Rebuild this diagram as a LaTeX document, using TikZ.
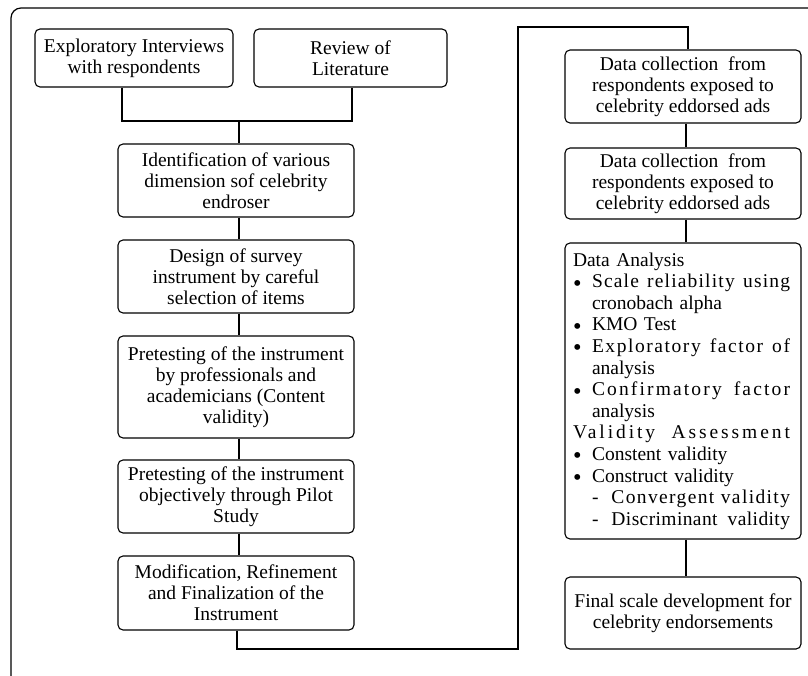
\documentclass[tikz,border=0pt]{standalone}
\usepackage{fontspec}
\setmainfont{Liberation Serif}
\newcommand\bul{\makebox[19pt][l]{\raisebox{-3.5pt}{\scalebox{1.25}{\textbullet}}}}
\newcommand\ind{\hspace*{19pt}}
% justified line: width, letter spacing, words
\newcommand\spread[3]{\leavevmode\hbox to #1{\addfontfeature{LetterSpace=#2}#3}}
\begin{document}
\begin{tikzpicture}[x=1pt,y=-1pt,
  box/.style={draw, rounded corners=5pt, line width=1.1pt, align=center,
    font=\fontsize{19.5}{21}\selectfont, inner sep=0pt},
  link/.style={line width=1.1pt},
  frame/.style={line width=1.2pt, rounded corners=10pt}]
\useasboundingbox (0,0) rectangle (808,676);
\clip (0,0) rectangle (808,676);

% outer frame
\draw[frame] (830,8) -- (11,8) -- (11,686) -- (830,686);

% left column
\node[box, minimum width=198pt, minimum height=58pt] (A) at (134,58)
  {Exploratory Interviews\\with respondents};
\node[box, minimum width=193pt, minimum height=58pt] (B) at (350.5,58)
  {Review of\\Literature};
\node[box, minimum width=236pt, minimum height=73pt] (C) at (236,180.5)
  {Identification of various\\dimension sof celebrity\\endroser};
\node[box, minimum width=236pt, minimum height=73pt] (D) at (236,276.5)
  {Design of survey\\instrument by careful\\selection of items};
\node[box, minimum width=236pt, minimum height=102pt] (E) at (236,387)
  {Pretesting of the instrument\\by professionals and\\academicians (Content\\validity)};
\node[box, minimum width=236pt, minimum height=73pt] (F) at (236,496.5)
  {Pretesting of the instrument\\objectively through Pilot\\Study};
\node[box, minimum width=236pt, minimum height=74pt] (G) at (236,593)
  {Modification, Refinement\\and Finalization of the\\Instrument};

% right column
\node[box, minimum width=236pt, minimum height=73pt] (H) at (683,86.5)
  {Data collection\ \ from\\respondents exposed to\\celebrity eddorsed ads};
\node[box, minimum width=236pt, minimum height=71pt] (I) at (683,183.5)
  {Data collection\ \ from\\respondents exposed to\\celebrity eddorsed ads};
\node[box, minimum width=236pt, minimum height=296pt, text width=220pt, align=left,
  font=\fontsize{19.5}{21.6}\selectfont] (J) at (683,391) {%
  Data Analysis\\
  \bul\spread{198pt}{6}{Scale\hfill reliability\hfill using}\\
  \ind cronobach alpha\\
  \bul KMO Test\\
  \bul\spread{198pt}{8}{Exploratory\hfill factor\hfill of}\\
  \ind analysis\\
  \bul\spread{198pt}{11}{Confirmatory\hfill factor}\\
  \ind analysis\\
  \spread{217pt}{15}{Validity\hfill Assessment}\\
  \bul Constent validity\\
  \bul Construct validity\\
  \ind\spread{198pt}{7}{-\ \ Convergent\hfill validity}\\
  \ind\spread{198pt}{2}{-\ \ Discriminant\hfill validity}};
\node[box, minimum width=236pt, minimum height=72pt] (K) at (683,613)
  {Final scale development for\\celebrity endorsements};

% connectors
\coordinate (jn) at (239,121);
\coordinate (r1) at (518,649);
\coordinate (r2) at (518,27);
\draw[link] ([xshift=-12pt]A.south) |- (jn) -| ([xshift=1.5pt]B.south);
\draw[link] (jn) -- (jn |- C.north);
\foreach \u/\v in {C/D, D/E, E/F, F/G}
  \draw[link] ([xshift=3pt]\u.south) -- ([xshift=3pt]\v.north);
\draw[link] ([xshift=1pt]G.south) |- (r1) -- (r2) -| ([xshift=5pt]H.north);
\foreach \u/\v in {H/I, I/J, J/K}
  \draw[link] ([xshift=3pt]\u.south) -- ([xshift=3pt]\v.north);
\end{tikzpicture}
\end{document}
